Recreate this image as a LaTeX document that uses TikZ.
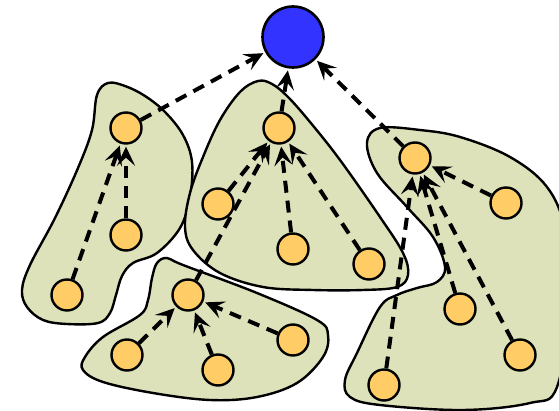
\documentclass[tikz,border=0pt]{standalone}
\usetikzlibrary{arrows.meta}
\definecolor{blobfill}{RGB}{221,226,187}
\definecolor{nodefill}{RGB}{255,204,102}
\definecolor{rootfill}{RGB}{51,51,255}
\tikzset{
  blob/.style={draw=black, line width=2.4pt, fill=blobfill},
  vtx/.style={circle, draw=black, line width=2.4pt, fill=nodefill, minimum size=31pt, inner sep=0pt},
  rootv/.style={circle, draw=black, line width=2.6pt, fill=rootfill, minimum size=61pt, inner sep=0pt},
  dep/.style={line width=4pt, dash pattern=on 12pt off 8pt, -{Stealth[length=19pt,width=18pt,inset=8pt]}, shorten >=2pt}
}
\begin{document}
\begin{tikzpicture}[x=1pt,y=-1pt]
\useasboundingbox (0,0) rectangle (559,411);
\clip (0,0) rectangle (559,411);
% blobs
\draw[blob] plot[smooth cycle, tension=0.6] coordinates {(108,83) (125,86) (145,96) (165,112) (183,135) (192,162) (190,197) (180,228) (157,253) (133,263) (122,276) (116,295) (110,313) (98,323) (67,324) (43,320) (27,307) (22,290) (30,265) (55,218) (78,168) (92,130) (97,95)};
\draw[blob] plot[smooth cycle, tension=0.6] coordinates {(258,81) (272,84) (288,97) (310,122) (340,160) (380,217) (403,253) (408,275) (397,287) (363,290) (313,290) (263,287) (220,273) (193,250) (185,227) (190,193) (203,157) (220,120) (240,92)};
\draw[blob] plot[smooth cycle, tension=0.6] coordinates {(380,128) (420,130) (460,137) (510,157) (547,187) (565,230) (570,300) (557,387) (530,403) (463,410) (380,405) (350,397) (345,380) (357,353) (380,307) (397,295) (417,288) (437,282) (445,267) (433,237) (407,207) (377,173) (367,143)};
\draw[blob] plot[smooth cycle, tension=0.6] coordinates {(167,258) (183,265) (257,293) (317,320) (328,335) (323,357) (297,383) (257,397) (210,400) (153,393) (103,382) (83,370) (85,357) (103,337) (140,315) (148,300) (152,278) (157,263)};
% nodes
\node[rootv] (root) at (293,37) {};
\node[vtx] (L1) at (126,128) {};
\node[vtx] (L2) at (126,235) {};
\node[vtx] (L3) at (67,295) {};
\node[vtx] (M1) at (279,128) {};
\node[vtx] (M2) at (218,204) {};
\node[vtx] (M3) at (293,249) {};
\node[vtx] (M4) at (369,264) {};
\node[vtx] (R1) at (415,158) {};
\node[vtx] (R2) at (506,203) {};
\node[vtx] (R3) at (460,309) {};
\node[vtx] (R4) at (520,355) {};
\node[vtx] (R5) at (384,385) {};
\node[vtx] (B1) at (188,295) {};
\node[vtx] (B2) at (127,355) {};
\node[vtx] (B3) at (218,370) {};
\node[vtx] (B4) at (293,340) {};
% edges
\draw[dep] (L1) -- (root);
\draw[dep] (M1) -- (root);
\draw[dep] (R1) -- (root);
\draw[dep] (L2) -- (L1);
\draw[dep] (L3) -- (L1);
\draw[dep] (M2) -- (M1);
\draw[dep] (B1) -- (M1);
\draw[dep] (M3) -- (M1);
\draw[dep] (M4) -- (M1);
\draw[dep] (R2) -- (R1);
\draw[dep] (R3) -- (R1);
\draw[dep] (R4) -- (R1);
\draw[dep] (R5) -- (R1);
\draw[dep] (B2) -- (B1);
\draw[dep] (B3) -- (B1);
\draw[dep] (B4) -- (B1);
\end{tikzpicture}
\end{document}
